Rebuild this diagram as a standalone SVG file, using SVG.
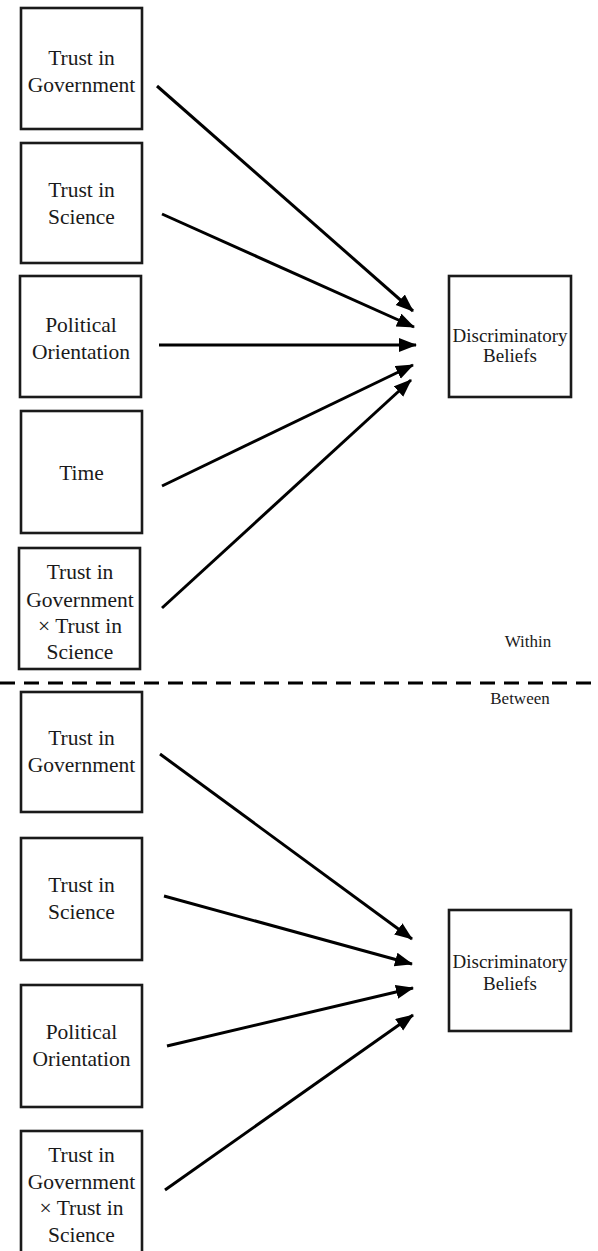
<svg xmlns="http://www.w3.org/2000/svg" width="598" height="1251" viewBox="0 0 598 1251">
<style>
.box{fill:#fff;stroke:#1a1a1a;stroke-width:2.6}
.t{font-family:"Liberation Serif","Times New Roman",serif;font-size:21.5px;fill:#1a1a1a;text-anchor:middle}
.d{font-family:"Liberation Serif","Times New Roman",serif;font-size:19px;fill:#1a1a1a;text-anchor:middle}
.lab{font-family:"Liberation Serif","Times New Roman",serif;font-size:17px;fill:#1a1a1a;text-anchor:middle}
.c{stroke:#000;stroke-width:3;fill:none;marker-end:url(#ah)}
</style>
<defs>
<marker id="ah" markerUnits="userSpaceOnUse" markerWidth="20" markerHeight="16" refX="17" refY="7" orient="auto">
<path d="M0,0 L18,7 L0,14 Z" fill="#000"/>
</marker>
</defs>
<rect width="598" height="1251" fill="#fff"/>
<g id="w-tig"><rect class="box" x="21" y="8" width="121" height="121"/><text class="t" x="81.5" y="65">Trust in</text><text class="t" x="81.5" y="92">Government</text></g>
<g id="w-tis"><rect class="box" x="21" y="143" width="121" height="120"/><text class="t" x="81.5" y="197">Trust in</text><text class="t" x="81.5" y="224">Science</text></g>
<g id="w-po"><rect class="box" x="20" y="276" width="121" height="121"/><text class="t" x="81" y="332">Political</text><text class="t" x="81" y="359">Orientation</text></g>
<g id="w-time"><rect class="box" x="21" y="411" width="121" height="122"/><text class="t" x="81.5" y="480">Time</text></g>
<g id="w-int"><rect class="box" x="19" y="548" width="121" height="121"/><text class="t" x="80" y="579">Trust in</text><text class="t" x="80" y="607">Government</text><text class="t" x="80" y="633">× Trust in</text><text class="t" x="80" y="659">Science</text></g>
<g id="w-db"><rect class="box" x="449" y="276" width="122" height="121"/><text class="d" x="510" y="342">Discriminatory</text><text class="d" x="510" y="362">Beliefs</text></g>
<g id="b-tig"><rect class="box" x="21" y="692" width="121" height="120"/><text class="t" x="81.5" y="745">Trust in</text><text class="t" x="81.5" y="772">Government</text></g>
<g id="b-tis"><rect class="box" x="21" y="838" width="121" height="122"/><text class="t" x="81.5" y="892">Trust in</text><text class="t" x="81.5" y="919">Science</text></g>
<g id="b-po"><rect class="box" x="21" y="985" width="121" height="122"/><text class="t" x="81.5" y="1039">Political</text><text class="t" x="81.5" y="1066">Orientation</text></g>
<g id="b-int"><rect class="box" x="21" y="1131" width="121" height="125"/><text class="t" x="81.5" y="1162">Trust in</text><text class="t" x="81.5" y="1189">Government</text><text class="t" x="81.5" y="1215">× Trust in</text><text class="t" x="81.5" y="1242">Science</text></g>
<g id="b-db"><rect class="box" x="449" y="910" width="122" height="121"/><text class="d" x="510" y="968">Discriminatory</text><text class="d" x="510" y="990">Beliefs</text></g>
<g id="labels"><text class="lab" x="528" y="647">Within</text><text class="lab" x="520" y="704">Between</text></g>
<g id="divider"><line x1="0" y1="683" x2="598" y2="683" stroke="#000" stroke-width="3" stroke-dasharray="15,9"/></g>
<g id="connectors">
<line class="c" x1="157" y1="86" x2="413" y2="311"/>
<line class="c" x1="162" y1="214" x2="414" y2="327"/>
<line class="c" x1="159" y1="345" x2="416" y2="345"/>
<line class="c" x1="162" y1="486" x2="413" y2="365"/>
<line class="c" x1="162" y1="608" x2="411" y2="380"/>
<line class="c" x1="160" y1="754" x2="412" y2="939"/>
<line class="c" x1="164" y1="896" x2="412" y2="964"/>
<line class="c" x1="167" y1="1046" x2="413" y2="988"/>
<line class="c" x1="165" y1="1190" x2="413" y2="1015"/>
</g>
</svg>
